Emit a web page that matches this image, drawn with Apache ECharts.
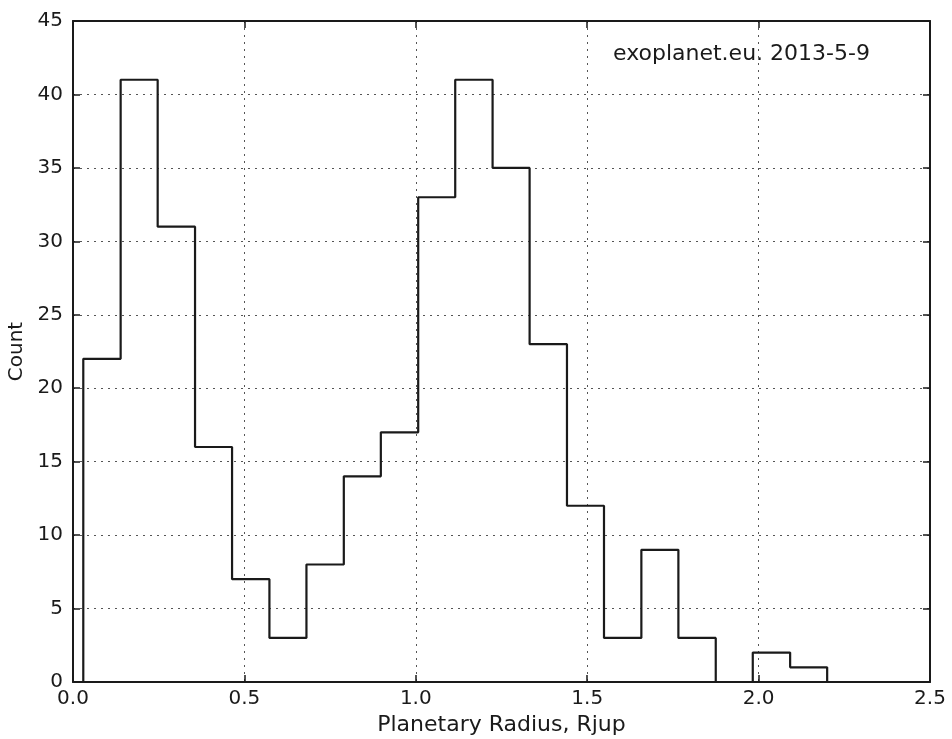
<!DOCTYPE html>
<html>
<head>
<meta charset="utf-8">
<script src="https://cdn.jsdelivr.net/npm/echarts@6/dist/echarts.min.js"></script>
<style>
html,body{margin:0;padding:0;background:#fff;}
#chart{width:952px;height:739px;}
</style>
</head>
<body>
<div id="chart"></div>
<script>
// Histogram bin edges (Rjup) and counts
var binEdges = [0.030, 0.139, 0.247, 0.356, 0.464, 0.573, 0.681, 0.790, 0.898, 1.007, 1.115,
                1.224, 1.332, 1.441, 1.549, 1.658, 1.766, 1.875, 1.983, 2.092, 2.200];
var counts = [22, 41, 31, 16, 7, 3, 8, 14, 17, 33, 41, 35, 23, 12, 3, 9, 3, 0, 2, 1];
var xTicks = [0.0, 0.5, 1.0, 1.5, 2.0, 2.5];
var yTicks = [0, 5, 10, 15, 20, 25, 30, 35, 40, 45];
var annotation = 'exoplanet.eu. 2013-5-9';
var xTitle = 'Planetary Radius, Rjup';
var yTitle = 'Count';

// Build step outline (like histtype='step')
var stepPts = [[binEdges[0], 0]];
for (var i = 0; i < counts.length; i++) {
  stepPts.push([binEdges[i], counts[i]]);
  stepPts.push([binEdges[i + 1], counts[i]]);
}
stepPts.push([binEdges[binEdges.length - 1], 0]);

var FONT = 'DejaVu Sans';
var ink = '#1a1a1a';
var chart = echarts.init(document.getElementById('chart'), null, {renderer: 'canvas'});

var gridLine = {show: true, lineStyle: {color: '#555', type: [2, 5], width: 1}};
var baseAxisLine = {show: true, onZero: false, lineStyle: {color: ink, width: 2}};
var tickIn = {show: true, inside: true, length: 7, lineStyle: {color: ink, width: 1.5}};

chart.setOption({
  animation: false,
  backgroundColor: '#fff',
  grid: {left: 73, right: 22, top: 21, bottom: 57, containLabel: false, outerBoundsMode: 'none'},
  xAxis: [{
    type: 'value', min: xTicks[0], max: xTicks[xTicks.length - 1], interval: 0.5,
    position: 'bottom',
    axisLine: baseAxisLine, axisTick: tickIn, splitLine: gridLine,
    axisLabel: {color: ink, fontFamily: FONT, fontSize: 20, margin: 7,
      formatter: function (v) { return v.toFixed(1); }},
    name: xTitle, nameLocation: 'middle', nameGap: 32,
    nameTextStyle: {color: ink, fontFamily: FONT, fontSize: 22}
  }, {
    type: 'value', min: xTicks[0], max: xTicks[xTicks.length - 1], interval: 0.5,
    position: 'top',
    axisLine: baseAxisLine, axisTick: tickIn, splitLine: {show: false},
    axisLabel: {show: false}
  }],
  yAxis: [{
    type: 'value', min: yTicks[0], max: yTicks[yTicks.length - 1], interval: 5,
    position: 'left',
    axisLine: baseAxisLine, axisTick: tickIn, splitLine: gridLine,
    axisLabel: {color: ink, fontFamily: FONT, fontSize: 20, margin: 10},
    name: yTitle, nameLocation: 'middle', nameGap: 46,
    nameTextStyle: {color: ink, fontFamily: FONT, fontSize: 20}
  }, {
    type: 'value', min: yTicks[0], max: yTicks[yTicks.length - 1], interval: 5,
    position: 'right',
    axisLine: baseAxisLine, axisTick: tickIn, splitLine: {show: false},
    axisLabel: {show: false}
  }],
  graphic: [{
    type: 'text', left: 613, top: 43,
    style: {text: annotation, fill: ink, font: '22px "DejaVu Sans"'}
  }],
  series: [{
    type: 'line', xAxisIndex: 0, yAxisIndex: 0,
    data: stepPts, symbol: 'none', silent: true,
    lineStyle: {color: ink, width: 2.2}
  }]
});
</script>
</body>
</html>
